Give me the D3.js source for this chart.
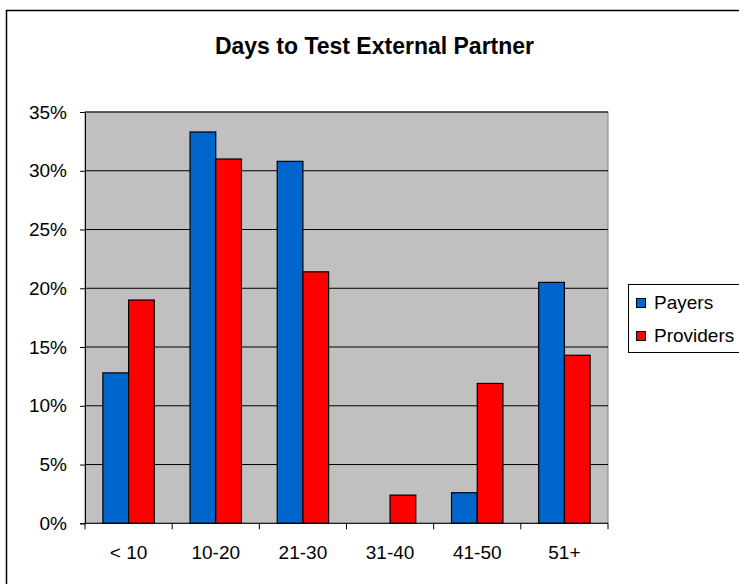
<!DOCTYPE html>
<html>
<head>
<meta charset="utf-8">
<script src="https://cdn.jsdelivr.net/npm/d3@7"></script>
<style>
  html, body { margin: 0; padding: 0; background: #fff; }
  svg { display: block; }
  text { font-family: Arial, "Liberation Sans", sans-serif; fill: #000; }
</style>
</head>
<body>
<svg id="chart" width="739" height="584"></svg>
<script>
// Share of respondents by number of days needed to test an external partner
const categories = ["< 10", "10-20", "21-30", "31-40", "41-50", "51+"];
const seriesNames = ["Payers", "Providers"];
const payers    = [12.8, 33.3, 30.8, 0, 2.6, 20.5];
const providers = [19.0, 31.0, 21.4, 2.4, 11.9, 14.3];
const yTicks = [0, 5, 10, 15, 20, 25, 30, 35];
const colors = ["#0066CC", "#FF0000"];

const svg = d3.select("#chart");

// outer chart frame (runs off the right and bottom edges)
svg.append("rect")
  .attr("x", 6.5).attr("y", 10.5)
  .attr("width", 760).attr("height", 600)
  .attr("fill", "#fff").attr("stroke", "#000").attr("stroke-width", 1.5);

const plot = { left: 85, right: 608, top: 112, bottom: 523.3 };

const y = d3.scaleLinear().domain([0, 35]).range([plot.bottom, plot.top]);
const x0 = d3.scaleBand().domain(categories).range([plot.left, plot.right]).padding(0);
const x1 = d3.scaleBand().domain(seriesNames).range([0, x0.bandwidth()])
  .paddingInner(0).paddingOuter(0.696);

// plot background
svg.append("rect")
  .attr("x", plot.left).attr("y", plot.top)
  .attr("width", plot.right - plot.left).attr("height", plot.bottom - plot.top)
  .attr("fill", "#C0C0C0").attr("stroke", "#808080").attr("stroke-width", 1);

// horizontal gridlines
svg.append("g").selectAll("line")
  .data(yTicks.filter(d => d > 0))
  .join("line")
  .attr("x1", plot.left).attr("x2", plot.right)
  .attr("y1", d => y(d)).attr("y2", d => y(d))
  .attr("stroke", "#000").attr("stroke-width", 1);

// bars
const rows = categories.map((c, i) => ({ cat: c, vals: [payers[i], providers[i]] }));
const groups = svg.append("g").selectAll("g")
  .data(rows)
  .join("g")
  .attr("transform", d => `translate(${x0(d.cat)},0)`);

groups.selectAll("rect")
  .data(d => d.vals.map((v, k) => ({ name: seriesNames[k], v, k })).filter(e => e.v > 0))
  .join("rect")
  .attr("x", e => x1(e.name))
  .attr("width", x1.bandwidth())
  .attr("y", e => y(e.v))
  .attr("height", e => y(0) - y(e.v))
  .attr("fill", e => colors[e.k])
  .attr("stroke", "#000").attr("stroke-width", 1.2);

// y axis
const yAxis = d3.axisLeft(y).tickValues(yTicks).tickFormat(d => d + "%").tickSize(5).tickPadding(13);
const gy = svg.append("g").attr("transform", `translate(${plot.left},0)`).call(yAxis);
gy.select(".domain").attr("stroke", "#000");
gy.selectAll(".tick line").attr("stroke", "#000");
gy.selectAll(".tick text")
  .attr("font-size", 19).attr("font-family", "Arial, 'Liberation Sans', sans-serif")
  .attr("fill", "#000");

// x axis with ticks at category boundaries
const gx = svg.append("g").attr("transform", `translate(0,${plot.bottom})`);
gx.append("line")
  .attr("x1", plot.left).attr("x2", plot.right)
  .attr("stroke", "#000").attr("stroke-width", 1);
const bounds = categories.map(c => x0(c)).concat([plot.right]);
gx.selectAll("line.tk")
  .data(bounds)
  .join("line").attr("class", "tk")
  .attr("x1", d => d).attr("x2", d => d)
  .attr("y1", 0).attr("y2", 6)
  .attr("stroke", "#000");
gx.selectAll("text")
  .data(categories)
  .join("text")
  .attr("x", d => x0(d) + x0.bandwidth() / 2)
  .attr("y", 36)
  .attr("text-anchor", "middle")
  .attr("font-size", 19)
  .text(d => d);

// title
svg.append("text")
  .attr("x", 374.5).attr("y", 54)
  .attr("text-anchor", "middle")
  .attr("font-size", 23).attr("font-weight", "bold")
  .text("Days to Test External Partner");

// legend
const lg = svg.append("g");
lg.append("rect")
  .attr("x", 628.5).attr("y", 284.5)
  .attr("width", 140).attr("height", 68)
  .attr("fill", "#fff").attr("stroke", "#000").attr("stroke-width", 1);
const items = lg.selectAll("g.item")
  .data(seriesNames)
  .join("g").attr("class", "item")
  .attr("transform", (d, i) => `translate(0,${i * 33})`);
items.append("rect")
  .attr("x", 636.5).attr("y", 298.5)
  .attr("width", 9).attr("height", 9)
  .attr("fill", (d, i) => colors[i]).attr("stroke", "#000").attr("stroke-width", 1);
items.append("text")
  .attr("x", 654).attr("y", 308.5)
  .attr("font-size", 19)
  .text(d => d);
</script>
</body>
</html>
